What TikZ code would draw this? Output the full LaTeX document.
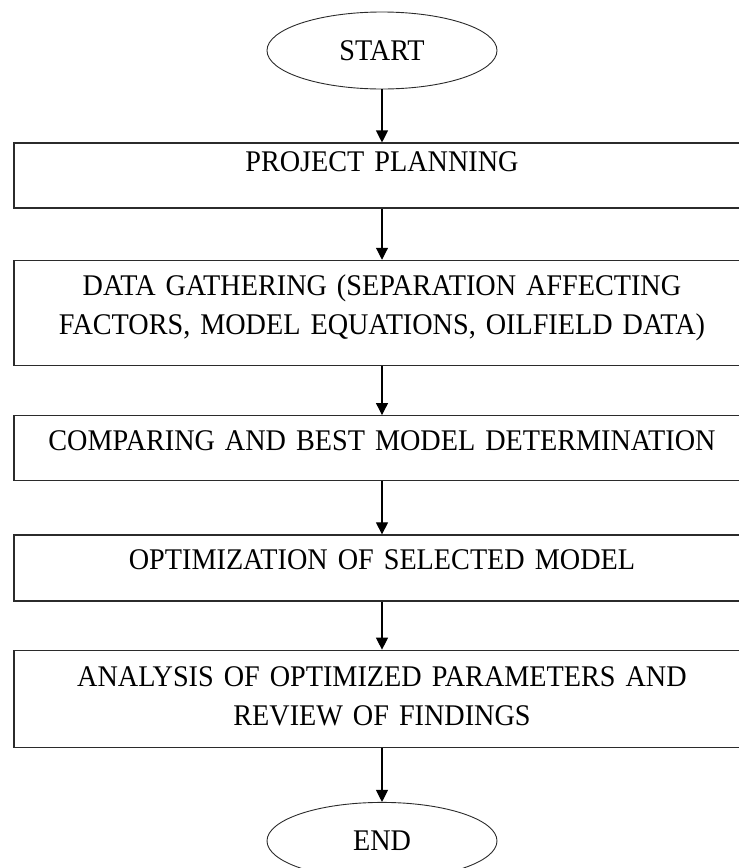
\documentclass[tikz,border=0pt]{standalone}
\usepackage{fontspec}
\setmainfont{Liberation Serif}[FakeStretch=0.94]
\usepackage{xcolor}
\usepackage{tikz}
\usetikzlibrary{positioning, arrows.meta, shapes.geometric}
\definecolor{boxline}{HTML}{2B2B2B}

\begin{document}
\begin{tikzpicture}[
    font=\fontsize{30pt}{39.5pt}\selectfont,
    terminal/.style={ellipse, draw=boxline, line width=0.9pt, minimum width=230pt,
                     minimum height=77pt, inner sep=0pt},
    stepbox/.style={draw=boxline, line width=1.3pt, minimum width=736pt,
                    text width=710pt, align=center, inner sep=0pt},
    flow/.style={-{Triangle[length=12pt, width=12pt]}, line width=1.1pt}
  ]
    \useasboundingbox (0,0) rectangle (739pt,-868pt);
    \clip (0,0) rectangle (739pt,-868pt);

    \node[terminal] (start) at (382pt,-50.5pt) {START};
    \node[stepbox, minimum height=65pt, text height=28pt, text depth=37pt,
          below=53pt of start] (plan) {PROJECT PLANNING};
    \node[stepbox, minimum height=105pt, text height=35pt, text depth=70pt,
          below=51pt of plan] (gather) {DATA GATHERING (SEPARATION AFFECTING\\
          FACTORS, MODEL EQUATIONS, OILFIELD DATA)};
    \node[stepbox, minimum height=65pt, text height=35pt, text depth=30pt,
          below=49pt of gather] (compare) {COMPARING AND BEST MODEL DETERMINATION};
    \node[stepbox, minimum height=66pt, text height=34pt, text depth=32pt,
          below=53pt of compare] (optimize) {OPTIMIZATION OF SELECTED MODEL};
    \node[stepbox, minimum height=97pt, text height=36pt, text depth=61pt,
          below=48pt of optimize] (analyse) {ANALYSIS OF OPTIMIZED PARAMETERS AND\\
          REVIEW OF FINDINGS};
    \node[terminal, below=54pt of analyse] (stop) {END};

    \draw[flow] (start) -- (plan);
    \draw[flow] (plan) -- (gather);
    \draw[flow] (gather) -- (compare);
    \draw[flow] (compare) -- (optimize);
    \draw[flow] (optimize) -- (analyse);
    \draw[flow] (analyse) -- (stop);
\end{tikzpicture}
\end{document}
